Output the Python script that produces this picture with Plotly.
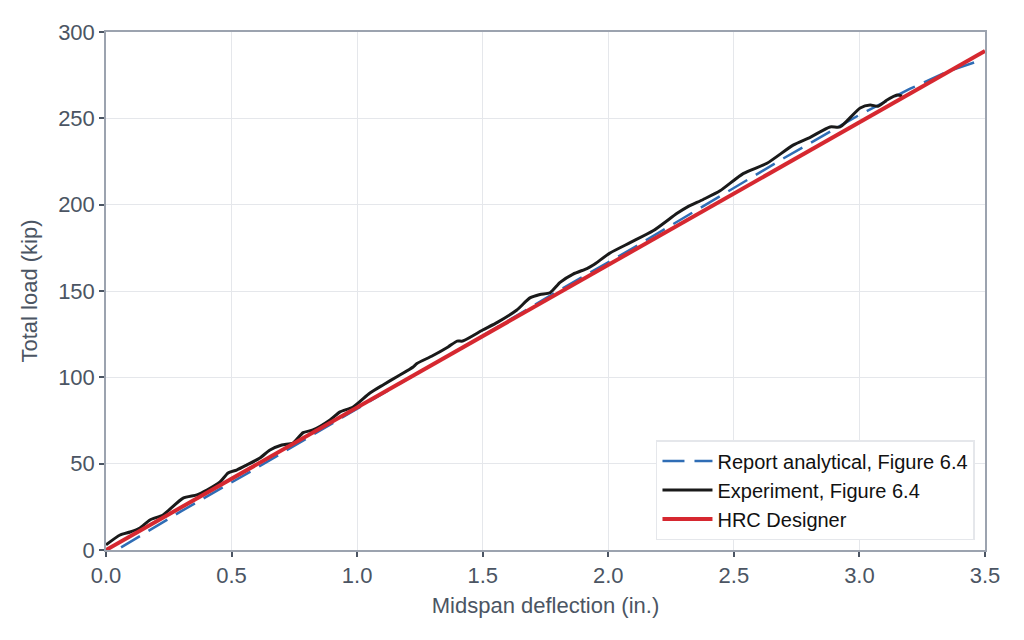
import plotly.graph_objects as go

# Experiment, Figure 6.4
exp_x = [0.0, 0.056, 0.096, 0.135, 0.175, 0.227, 0.307, 0.362, 0.402, 0.454,
         0.486, 0.52, 0.56, 0.613, 0.653, 0.70, 0.745, 0.785, 0.824, 0.892,
         0.932, 0.984, 1.051, 1.103, 1.16, 1.223, 1.238, 1.30, 1.362, 1.398,
         1.42, 1.50, 1.56, 1.636, 1.688, 1.728, 1.768, 1.808, 1.86, 1.915,
         1.94, 2.007, 2.087, 2.18, 2.274, 2.314, 2.378, 2.445, 2.537, 2.632,
         2.736, 2.804, 2.883, 2.923, 3.003, 3.043, 3.074, 3.11, 3.15, 3.17]
exp_y = [3.0, 8.7, 10.4, 12.7, 17.4, 20.3, 30.0, 31.9, 34.7, 39.4,
         44.6, 46.3, 49.2, 53.3, 57.9, 60.8, 62.0, 68.0, 69.5, 75.3,
         80.0, 82.8, 90.9, 95.6, 100.5, 106.0, 108.0, 112.5, 117.6, 121.0,
         121.0, 127.4, 132.0, 139.0, 146.0, 148.0, 149.0, 155.0, 159.8, 163.0,
         165.0, 172.0, 178.0, 185.0, 195.0, 198.6, 203.0, 208.0, 218.0, 224.0,
         234.5, 239.0, 245.0, 245.0, 256.0, 257.7, 257.0, 260.6, 263.5, 263.0]

# Report analytical, Figure 6.4
ana_x = [0.06, 0.3, 0.6, 0.9, 1.2, 1.5, 1.8, 2.1, 2.4, 2.7, 3.0, 3.2, 3.35, 3.47]
ana_y = [1.5, 22.5, 47.5, 73.5, 99.0, 124.0, 150.0, 175.0, 201.0, 227.0, 252.0, 267.0, 277.0, 283.0]

# HRC Designer
hrc_x = [0.0, 3.5]
hrc_y = [0.0, 289.0]

fig = go.Figure()

fig.add_trace(go.Scatter(x=ana_x, y=ana_y, mode="lines",
                         name="Report analytical, Figure 6.4",
                         line=dict(color="#2f6db5", width=2.5, dash="22px,10px")))

fig.add_trace(go.Scatter(x=exp_x, y=exp_y, mode="lines",
                         name="Experiment, Figure 6.4",
                         line=dict(color="#1a1a1a", width=3, shape="spline", smoothing=0.6)))

fig.add_trace(go.Scatter(x=hrc_x, y=hrc_y, mode="lines",
                         name="HRC Designer",
                         line=dict(color="#d62830", width=4)))

axis_style = dict(showline=True, linecolor="#9ca3af", linewidth=1.5, mirror=True,
                  ticks="outside", ticklen=5, tickcolor="#4b5563", tickwidth=1.5,
                  showgrid=True, gridcolor="#e5e7eb", gridwidth=1, zeroline=False,
                  tickfont=dict(size=22, color="#4b5563"),
                  title_font=dict(size=22, color="#4b5563"))

fig.update_xaxes(range=[0, 3.5], dtick=0.5, tickformat=".1f",
                 title_text="Midspan deflection (in.)", title_standoff=10, **axis_style)
fig.update_yaxes(range=[0, 300], dtick=50,
                 title_text="Total load (kip)", title_standoff=14, **axis_style)

# page body has an 8px margin, so the margins are shifted to match
fig.update_layout(
    width=1024, height=640,
    margin=dict(l=98, r=47, t=24, b=98),
    plot_bgcolor="white", paper_bgcolor="white",
    font=dict(family="Liberation Sans, Arial, sans-serif", size=20, color="#111111"),
    legend=dict(x=0.9886, y=0.0193, xanchor="right", yanchor="bottom",
                bgcolor="white", bordercolor="#e5e7eb", borderwidth=1.5,
                itemwidth=50,
                font=dict(size=20, color="#111111")),
)

fig.write_html("out.html")
